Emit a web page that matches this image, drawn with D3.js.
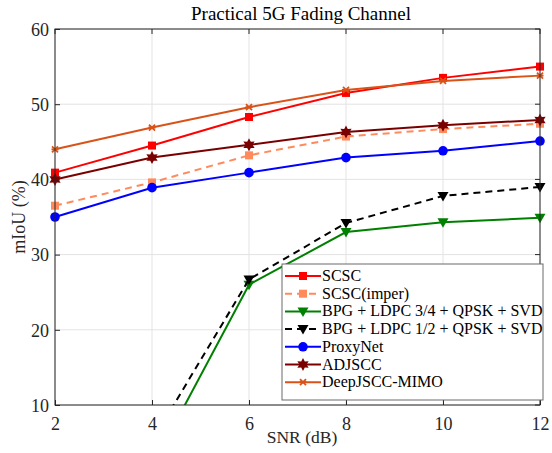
<!DOCTYPE html>
<html>
<head>
<meta charset="utf-8">
<script src="https://cdn.jsdelivr.net/npm/d3@7"></script>
<style>
  body { margin: 0; background: #fff; }
  svg text { font-family: "Liberation Serif", "Times New Roman", Times, "DejaVu Serif", serif; }
</style>
</head>
<body>
<div id="chart"></div>
<script>
// Data
const snr = [2, 4, 6, 8, 10, 12];
const scsc = [40.9, 44.5, 48.3, 51.5, 53.5, 55.0];
const scscImper = [36.5, 39.6, 43.2, 45.7, 46.7, 47.4];
const bpg34 = [null, 1.8, 26.0, 33.0, 34.3, 34.9];
const bpg12 = [null, 5.2, 26.7, 34.2, 37.8, 39.0];
const proxyNet = [35.0, 38.9, 40.9, 42.9, 43.8, 45.1];
const adjscc = [40.0, 42.9, 44.6, 46.3, 47.2, 47.9];
const deepjsccMimo = [44.0, 46.9, 49.6, 51.9, 53.1, 53.8];
const xTicks = [2, 4, 6, 8, 10, 12];
const yTicks = [10, 20, 30, 40, 50, 60];

const series = [
    { name: "SCSC", values: scsc, color: "#ff0000", dash: null, marker: "square" },
    { name: "SCSC(imper)", values: scscImper, color: "#ff8a5c", dash: "7,5", marker: "square" },
    { name: "BPG + LDPC 3/4 + QPSK + SVD", values: bpg34, color: "#008000", dash: null, marker: "tri" },
    { name: "BPG + LDPC 1/2 + QPSK + SVD", values: bpg12, color: "#000000", dash: "7,5", marker: "tri" },
    { name: "ProxyNet", values: proxyNet, color: "#0000ff", dash: null, marker: "circle" },
    { name: "ADJSCC", values: adjscc, color: "#7a0000", dash: null, marker: "hex" },
    { name: "DeepJSCC-MIMO", values: deepjsccMimo, color: "#d95319", dash: null, marker: "x" }
];

const width = 552, height = 453;
const margin = { left: 55, right: 12, top: 29, bottom: 48 };
const axisColor = "#262626";
const serif = "Liberation Serif";

const svg = d3.select("#chart").append("svg")
    .attr("width", width)
    .attr("height", height);

const x = d3.scaleLinear().domain([2, 12]).range([margin.left, width - margin.right]);
const y = d3.scaleLinear().domain([10, 60]).range([height - margin.bottom, margin.top]);

// grid
svg.append("g").selectAll("line").data(xTicks).join("line")
    .attr("x1", d => x(d)).attr("x2", d => x(d))
    .attr("y1", y(10)).attr("y2", y(60))
    .attr("stroke", "#e3e3e3").attr("stroke-width", 1);
svg.append("g").selectAll("line").data(yTicks).join("line")
    .attr("x1", x(2)).attr("x2", x(12))
    .attr("y1", d => y(d)).attr("y2", d => y(d))
    .attr("stroke", "#e3e3e3").attr("stroke-width", 1);

svg.append("defs").append("clipPath").attr("id", "plot-clip")
    .append("rect")
    .attr("x", x(2) - 8).attr("y", y(60))
    .attr("width", x(12) - x(2) + 16).attr("height", y(10) - y(60));

// marker shapes
function hexagram(r) {
    let p = [];
    for (let i = 0; i < 12; i++) {
        const a = -Math.PI / 2 + i * Math.PI / 6;
        const rr = i % 2 === 0 ? r : r * 0.55;
        p.push([rr * Math.cos(a), rr * Math.sin(a)]);
    }
    return "M" + p.map(q => q.join(",")).join("L") + "Z";
}

function drawMarker(g, type, color) {
    if (type === "square") {
        g.append("rect").attr("x", -4).attr("y", -4).attr("width", 8).attr("height", 8)
            .attr("fill", color);
    } else if (type === "circle") {
        g.append("circle").attr("r", 4.8).attr("fill", color);
    } else if (type === "tri") {
        g.append("path").attr("d", "M-5.5,-4L5.5,-4L0,5.5Z").attr("fill", color);
    } else if (type === "hex") {
        g.append("path").attr("d", hexagram(6.5)).attr("fill", color);
    } else if (type === "x") {
        g.append("path").attr("d", "M-3,-3L3,3M-3,3L3,-3M-3.5,0L3.5,0")
            .attr("stroke", color).attr("stroke-width", 1.8).attr("fill", "none");
    }
}

const plot = svg.append("g").attr("clip-path", "url(#plot-clip)");
const line = d3.line()
    .defined(d => d[1] !== null)
    .x(d => x(d[0])).y(d => y(d[1]));

series.forEach(s => {
    const pts = snr.map((v, i) => [v, s.values[i]]);
    plot.append("path")
        .datum(pts)
        .attr("d", line)
        .attr("fill", "none")
        .attr("stroke", s.color)
        .attr("stroke-width", 2)
        .attr("stroke-dasharray", s.dash);
    pts.filter(d => d[1] !== null && d[1] >= 10).forEach(d => {
        const g = plot.append("g").attr("transform", `translate(${x(d[0])},${y(d[1])})`);
        drawMarker(g, s.marker, s.color);
    });
});

// axes box
svg.append("rect")
    .attr("x", x(2)).attr("y", y(60))
    .attr("width", x(12) - x(2)).attr("height", y(10) - y(60))
    .attr("fill", "none").attr("stroke", axisColor).attr("stroke-width", 1);

const xAxis = d3.axisBottom(x).tickValues(xTicks).tickSizeInner(-5).tickSizeOuter(0).tickPadding(12);
const yAxis = d3.axisLeft(y).tickValues(yTicks).tickSizeInner(-5).tickSizeOuter(0).tickPadding(6);

const gx = svg.append("g").attr("transform", `translate(0,${y(10)})`).call(xAxis);
const gy = svg.append("g").attr("transform", `translate(${x(2)},0)`).call(yAxis);
[gx, gy].forEach(g => {
    g.attr("font-family", serif);
    g.select(".domain").remove();
    g.selectAll("line").attr("stroke", axisColor);
    g.selectAll("text").attr("fill", axisColor).style("font-size", "18px");
});
gy.selectAll("text").attr("dy", "0.35em");
// top/right ticks
svg.append("g").selectAll("line").data(xTicks).join("line")
    .attr("x1", d => x(d)).attr("x2", d => x(d))
    .attr("y1", y(60)).attr("y2", y(60) + 5).attr("stroke", axisColor);
svg.append("g").selectAll("line").data(yTicks).join("line")
    .attr("x1", x(12)).attr("x2", x(12) - 5)
    .attr("y1", d => y(d)).attr("y2", d => y(d)).attr("stroke", axisColor);

// title and labels
svg.append("text").attr("x", 301).attr("y", 20)
    .attr("text-anchor", "middle").style("font-size", "19px").attr("fill", "#000")
    .text("Practical 5G Fading Channel");
svg.append("text").attr("x", 302).attr("y", 443)
    .attr("text-anchor", "middle").style("font-size", "17.5px").attr("fill", axisColor)
    .text("SNR (dB)");
svg.append("text")
    .attr("transform", `translate(25,${(y(10) + y(60)) / 2}) rotate(-90)`)
    .attr("text-anchor", "middle").style("font-size", "18px").attr("fill", axisColor)
    .text("mIoU (%)");

// legend
const legX = 282, legY = 264, rowH = 17.7;
const leg = svg.append("g");
leg.append("rect")
    .attr("x", legX).attr("y", legY)
    .attr("width", 261).attr("height", 136)
    .attr("fill", "#fff").attr("stroke", "#6b6b6b").attr("stroke-width", 1);
series.forEach((s, i) => {
    const cy = legY + 12 + i * rowH;
    leg.append("line")
        .attr("x1", legX + 3).attr("x2", legX + 39)
        .attr("y1", cy).attr("y2", cy)
        .attr("stroke", s.color).attr("stroke-width", 2)
        .attr("stroke-dasharray", s.dash ? "7,5" : null);
    const g = leg.append("g").attr("transform", `translate(${legX + 21},${cy})`);
    drawMarker(g, s.marker, s.color);
    leg.append("text")
        .attr("x", legX + 40).attr("y", cy + 5)
        .style("font-size", "16px").attr("fill", "#000")
        .text(s.name);
});
</script>
</body>
</html>
